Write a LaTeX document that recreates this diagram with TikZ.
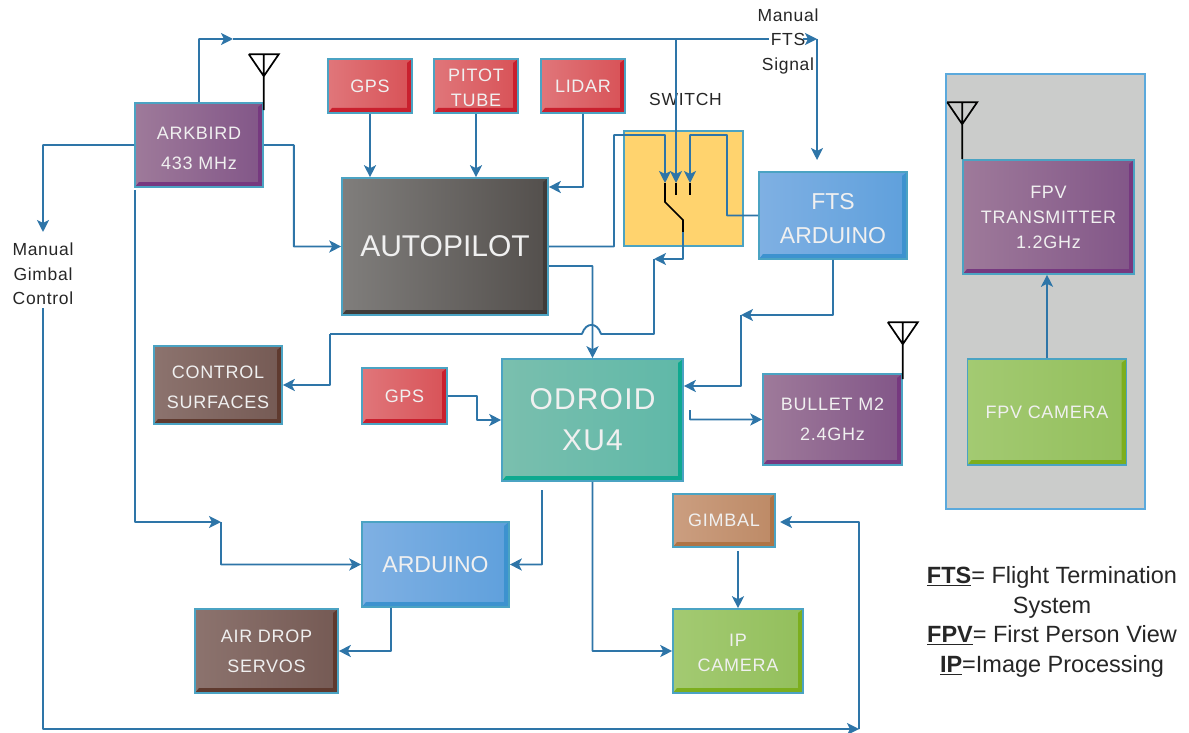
\documentclass[tikz,border=0pt]{standalone}
\usepackage{fontspec}
\setmainfont{Liberation Sans}
\newfontfamily\widefont[LetterSpace=4]{Liberation Sans}
\usetikzlibrary{arrows.meta,calc}
\newcommand{\lowered}[1]{\rule{0pt}{#1pt}}
\definecolor{edgeblue}{RGB}{75,163,195}
\definecolor{wireblue}{RGB}{46,117,168}
\definecolor{boxtext}{RGB}{240,240,240}
\definecolor{panelgrey}{RGB}{203,204,203}
\definecolor{paneledge}{RGB}{91,169,220}
\definecolor{switchfill}{RGB}{255,211,110}
\definecolor{purpleL}{RGB}{158,122,154}\definecolor{purpleR}{RGB}{130,86,136}\definecolor{purpleD}{RGB}{118,57,127}
\definecolor{redL}{RGB}{224,118,122}\definecolor{redR}{RGB}{216,82,87}\definecolor{redD}{RGB}{201,32,46}
\definecolor{greyL}{RGB}{128,126,124}\definecolor{greyR}{RGB}{83,79,76}\definecolor{greyD}{RGB}{64,60,58}
\definecolor{blueL}{RGB}{127,176,227}\definecolor{blueR}{RGB}{95,160,220}\definecolor{blueD}{RGB}{61,146,207}
\definecolor{brownL}{RGB}{140,115,110}\definecolor{brownR}{RGB}{117,90,84}\definecolor{brownD}{RGB}{95,58,47}
\definecolor{tealL}{RGB}{122,191,174}\definecolor{tealR}{RGB}{95,184,168}\definecolor{tealD}{RGB}{14,169,143}
\definecolor{orangeL}{RGB}{203,158,128}\definecolor{orangeR}{RGB}{189,138,102}\definecolor{orangeD}{RGB}{174,116,70}
\definecolor{greenL}{RGB}{163,202,114}\definecolor{greenR}{RGB}{147,191,92}\definecolor{greenD}{RGB}{124,174,30}

\begin{document}
\begin{tikzpicture}[x=1pt,y=-1pt,
  panel/.style n args={3}{draw=edgeblue,line width=1.6pt,align=center,text=boxtext,inner sep=0pt,
    left color=#1,right color=#2,path picture={
      \fill[#3] (path picture bounding box.north east) -- ++(-5,4)
        -- ($(path picture bounding box.south east)+(-5,-5)$)
        -- ($(path picture bounding box.south west)+(4,-5)$)
        -- (path picture bounding box.south west)
        -- (path picture bounding box.south east) -- cycle;}},
  purplebox/.style={panel={purpleL}{purpleR}{purpleD}},
  redbox/.style={panel={redL}{redR}{redD}},
  greybox/.style={panel={greyL}{greyR}{greyD}},
  bluebox/.style={panel={blueL}{blueR}{blueD}},
  brownbox/.style={panel={brownL}{brownR}{brownD}},
  tealbox/.style={panel={tealL}{tealR}{tealD}},
  orangebox/.style={panel={orangeL}{orangeR}{orangeD}},
  greenbox/.style={panel={greenL}{greenR}{greenD}},
  smalltxt/.style={font=\widefont\fontsize{18}{30}\selectfont},
  tighttxt/.style={font=\widefont\fontsize{18}{25}\selectfont},
  midtxt/.style={font=\fontsize{23}{34}\selectfont},
  bigtxt/.style={font=\widefont\fontsize{30}{41}\selectfont},
  sidetxt/.style={align=center,text=black!85,inner sep=0pt,font=\widefont\fontsize{17.5}{24.5}\selectfont},
  conn/.style={draw=wireblue,line width=1.9pt,rounded corners=0.5pt},
  tip/.style={-{Stealth[length=12pt,width=12pt,inset=3pt]}},
  blackwire/.style={draw=black,line width=1.7pt}]
  \useasboundingbox (0,0) rectangle (1189,733);
  % backing panels
  \node[draw=paneledge,line width=1.8pt,fill=panelgrey,minimum width=199pt,minimum height=435pt] (fpvpanel) at (1045.5,291.5) {};
  \node[draw=edgeblue,line width=1.6pt,fill=switchfill,minimum width=119pt,minimum height=115pt] (switchbox) at (683.5,188.5) {};
  \node[font=\widefont\fontsize{17.5}{20}\selectfont,text=black!85,inner sep=0pt] (switchlab) at (685.5,99) {SWITCH};
  % boxes
  \node[purplebox,smalltxt,minimum width=128pt,minimum height=84pt] (arkbird) at (199,145) {\lowered{20}ARKBIRD\\433 MHz};
  \node[redbox,smalltxt,minimum width=84pt,minimum height=54pt] (gpstop) at (370,86) {GPS};
  \node[redbox,tighttxt,minimum width=84pt,minimum height=54pt] (pitot) at (476,86) {\lowered{17}PITOT\\TUBE};
  \node[redbox,smalltxt,minimum width=84pt,minimum height=54pt] (lidar) at (583,86) {LIDAR};
  \node[greybox,font=\fontsize{30}{41}\selectfont,minimum width=206pt,minimum height=137pt] (autopilot) at (445,246.5) {AUTOPILOT};
  \node[bluebox,midtxt,minimum width=148pt,minimum height=87pt] (ftsard) at (833,215.5) {\lowered{23}FTS\\ARDUINO};
  \node[brownbox,smalltxt,minimum width=128pt,minimum height=78pt] (surfaces) at (218,385) {\lowered{17}CONTROL\\SURFACES};
  \node[redbox,smalltxt,minimum width=85pt,minimum height=56pt] (gpslow) at (404.5,396) {GPS};
  \node[tealbox,bigtxt,minimum width=181pt,minimum height=122pt] (odroid) at (592.5,420) {ODROID\\XU4};
  \node[purplebox,smalltxt,minimum width=139pt,minimum height=91pt] (bullet) at (832.5,419.5) {BULLET M2\\2.4GHz};
  \node[orangebox,tighttxt,minimum width=102pt,minimum height=53pt] (gimbal) at (724,520.5) {GIMBAL};
  \node[bluebox,midtxt,minimum width=147pt,minimum height=85pt] (arduino) at (435.5,564.5) {ARDUINO};
  \node[brownbox,smalltxt,minimum width=143pt,minimum height=84pt] (airdrop) at (266.5,651) {AIR DROP\\SERVOS};
  \node[greenbox,tighttxt,minimum width=130pt,minimum height=84pt] (ipcam) at (738,651) {\lowered{17}IP\\CAMERA};
  \node[purplebox,tighttxt,minimum width=171pt,minimum height=114pt] (fpvtx) at (1048.5,217) {FPV\\TRANSMITTER\\1.2GHz};
  \node[greenbox,tighttxt,minimum width=159pt,minimum height=106pt] (fpvcam) at (1047,412) {FPV CAMERA};
  % side labels
  \node[sidetxt] (ftssignal) at (788,41) {Manual\\FTS\\Signal};
  \node[sidetxt] (gimbalsignal) at (43,274) {Manual\\Gimbal\\Control};
  \node[align=center,text=black!85,inner sep=0pt,font=\fontsize{23.5}{29.5}\selectfont] (legend) at (1052,622) {%
    \underline{\textbf{FTS}}= Flight Termination\\System\\\underline{\textbf{FPV}}= First Person View\\\underline{\textbf{IP}}=Image Processing};
  % antennas
  \foreach \host/\up/\low in {arkbird.north east/48/8,bullet.north east/51/6,fpvtx.north west/57/0}
    \draw[blackwire] (\host) ++(0,\low) -- ++(0,-\low-\up) ++(-15,0) -- ++(30,0) -- ++(-15,22) -- ++(-15,-22);
  % switch contacts
  \coordinate (pinA) at (665,183);
  \coordinate (pinB) at (676,183);
  \coordinate (pinC) at (690,183);
  \coordinate (pivotA) at (665,202);
  \coordinate (pivotB) at (683,220);
  \coordinate (outA) at (683,232);
  \draw[blackwire] (pinA) -- (pivotA) -- (pivotB) -- (outA);
  \draw[blackwire] (pinB) -- ++(0,12);
  \draw[blackwire] (pinC) -- ++(0,12);
  % top manual line
  \coordinate (topbend) at (233,39);
  \coordinate (gapL) at (769,39);
  \coordinate (gapR) at (803,39);
  \coordinate (topend) at (817,39);
  \coordinate (ftsin) at (817,160);
  \draw[conn,tip] (arkbird.north) |- (topbend);
  \draw[conn] (topbend) -- (gapL);
  \draw[conn,tip] (gapR) -- (topend);
  \draw[conn,tip] (topend) -- (ftsin);
  \draw[conn,tip] (pinB |- topbend) -- (pinB);
  % arkbird outputs
  \coordinate (ardout) at (135,190);
  \coordinate (ardbend) at (221,522);
  \coordinate (gimbalup) at (43,308);
  \coordinate (gimbaldown) at (43,232);
  \coordinate (lowcorner) at (859,729);
  \coordinate (gimbalin) at (780,522);
  \draw[conn,tip] (arkbird.east) -- ++(30,0) |- (autopilot.west);
  \draw[conn,tip] (arkbird.west) -| (gimbaldown);
  \draw[conn,tip] (ardout) |- (ardbend);
  \draw[conn,tip] (ardbend) |- (arduino.west);
  \draw[conn,tip] (gimbalup) |- (lowcorner);
  \draw[conn,tip] (lowcorner) |- (gimbalin);
  % sensors into autopilot
  \draw[conn,tip] (gpstop.south) -- (gpstop.south |- autopilot.north);
  \draw[conn,tip] (pitot.south) -- (pitot.south |- autopilot.north);
  \draw[conn,tip] (lidar.south) |- (autopilot.east |- 0,187);
  % switch wiring
  \coordinate (swtop) at (614,135);
  \coordinate (ftstop) at (727,135);
  \coordinate (swout) at (654,259);
  \coordinate (hopR) at (601,334);
  \coordinate (hopL) at (582,334);
  \coordinate (surfbend) at (330,334);
  \draw[conn,tip] (autopilot.east) -| (swtop) -| (pinA);
  \draw[conn,tip] (ftsard.west) -| (ftstop) -| (pinC);
  \draw[conn,tip] (outA) |- (swout);
  \draw[conn] (swout) |- (hopR) .. controls (597,322) and (586,322) .. (hopL) -- (surfbend);
  \draw[conn,tip] (surfbend) |- (surfaces.east);
  % odroid wiring
  \coordinate (fuseside) at (741,315);
  \coordinate (bulletout) at (690,410);
  \coordinate (gpsbend) at (477,396);
  \coordinate (ardin) at (542,490);
  \draw[conn,tip] (autopilot.east |- 0,266) -| (odroid.north);
  \draw[conn,tip] (ftsard.south) |- (fuseside);
  \draw[conn,tip] (fuseside) |- (odroid.east |- 0,386);
  \draw[conn,tip] (bulletout) |- (bullet.west);
  \draw[conn,tip] (gpslow.east) -- (gpsbend) |- (odroid.west);
  \draw[conn,tip] (ardin) |- (arduino.east);
  \draw[conn,tip] (odroid.south) |- (ipcam.west);
  \draw[conn,tip] (arduino.south -| 391,0) |- (airdrop.east);
  \draw[conn,tip] ($(gimbal.south)+(14,3)$) -- (ipcam.north);
  \draw[conn,tip] (fpvcam.north) -- (fpvcam.north |- fpvtx.south);
\end{tikzpicture}
\end{document}
